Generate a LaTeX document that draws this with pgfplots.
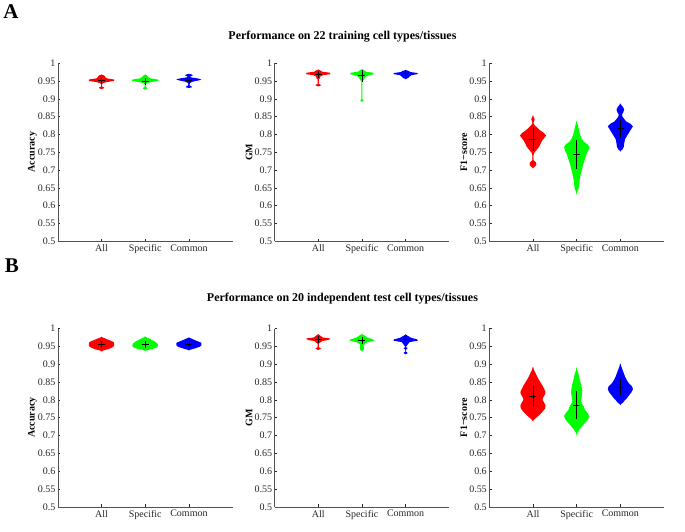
\documentclass[border=0pt]{standalone}
\usepackage{fontspec}
\setmainfont{Liberation Serif}
\usepackage{pgfplots}
\pgfplotsset{compat=1.18}
\usepackage{pgfplotstable}

% ---------- violin profiles (y, half-width) ----------
\pgfplotstableread{
y w
0.927 0
0.929 0.06
0.932 0.07
0.934 0.02
0.940 0.015
0.944 0.05
0.947 0.14
0.950 0.30
0.954 0.30
0.957 0.14
0.960 0.10
0.963 0.09
0.966 0.06
0.968 0
}\accAall
\pgfplotstableread{
y w
0.926 0
0.928 0.06
0.931 0.06
0.933 0.02
0.940 0.02
0.944 0.06
0.947 0.15
0.950 0.32
0.954 0.30
0.957 0.14
0.961 0.08
0.965 0.06
0.968 0
}\accAspec
\pgfplotstableread{
y w
0.930 0
0.932 0.08
0.935 0.07
0.938 0.02
0.944 0.03
0.948 0.10
0.951 0.22
0.954 0.30
0.957 0.22
0.960 0.06
0.963 0.04
0.965 0.10
0.968 0.08
0.970 0
}\accAcom
\pgfplotstableread{
y w
0.935 0
0.937 0.07
0.940 0.06
0.942 0.01
0.955 0.02
0.958 0.06
0.962 0.05
0.966 0.12
0.969 0.29
0.973 0.28
0.976 0.10
0.979 0.07
0.982 0
}\gmAall
\pgfplotstableread{
y w
0.892 0
0.894 0.05
0.897 0.04
0.899 0.008
0.948 0.008
0.952 0.05
0.957 0.07
0.962 0.10
0.966 0.18
0.969 0.28
0.973 0.27
0.976 0.10
0.980 0.06
0.983 0
}\gmAspec
\pgfplotstableread{
y w
0.955 0
0.958 0.07
0.962 0.10
0.966 0.14
0.969 0.28
0.972 0.29
0.975 0.12
0.978 0.08
0.981 0
}\gmAcom
\pgfplotstableread{
y w
0.705 0
0.710 0.06
0.716 0.09
0.722 0.08
0.728 0.02
0.740 0.015
0.750 0.05
0.757 0.10
0.765 0.15
0.775 0.19
0.782 0.22
0.790 0.27
0.797 0.31
0.804 0.26
0.812 0.17
0.820 0.10
0.826 0.05
0.832 0.02
0.838 0.04
0.843 0.05
0.848 0.03
0.853 0
}\fAall
\pgfplotstableread{
y w
0.632 0
0.640 0.03
0.650 0.06
0.660 0.07
0.672 0.08
0.685 0.10
0.700 0.13
0.715 0.16
0.730 0.20
0.745 0.24
0.755 0.28
0.765 0.30
0.772 0.26
0.780 0.17
0.790 0.12
0.800 0.09
0.810 0.07
0.820 0.05
0.830 0.03
0.838 0
}\fAspec
\pgfplotstableread{
y w
0.752 0
0.758 0.06
0.765 0.09
0.775 0.10
0.787 0.12
0.797 0.17
0.805 0.21
0.815 0.26
0.823 0.30
0.830 0.24
0.836 0.15
0.843 0.10
0.850 0.06
0.856 0.05
0.862 0.08
0.870 0.10
0.877 0.07
0.883 0.03
0.887 0
}\fAcom
\pgfplotstableread{
y w
0.936 0
0.939 0.06
0.942 0.16
0.945 0.22
0.948 0.27
0.952 0.30
0.958 0.30
0.962 0.29
0.966 0.22
0.970 0.14
0.974 0.06
0.977 0
}\accBall
\pgfplotstableread{
y w
0.937 0
0.940 0.07
0.943 0.18
0.947 0.28
0.952 0.31
0.958 0.29
0.963 0.24
0.967 0.18
0.971 0.12
0.975 0.05
0.978 0
}\accBspec
\pgfplotstableread{
y w
0.939 0
0.942 0.08
0.945 0.17
0.949 0.26
0.953 0.30
0.960 0.30
0.964 0.22
0.968 0.14
0.972 0.07
0.975 0
}\accBcom
\pgfplotstableread{
y w
0.940 0
0.942 0.06
0.945 0.07
0.948 0.02
0.956 0.015
0.960 0.05
0.965 0.10
0.968 0.25
0.972 0.29
0.975 0.12
0.978 0.08
0.982 0.04
0.984 0
}\gmBall
\pgfplotstableread{
y w
0.936 0
0.940 0.05
0.948 0.06
0.953 0.05
0.958 0.08
0.962 0.14
0.966 0.30
0.970 0.26
0.974 0.15
0.978 0.10
0.982 0.05
0.985 0
}\gmBspec
\pgfplotstableread{
y w
0.928 0
0.930 0.05
0.933 0.05
0.935 0.01
0.941 0.01
0.943 0.05
0.946 0.05
0.948 0.01
0.952 0.04
0.957 0.07
0.962 0.10
0.966 0.29
0.970 0.27
0.974 0.14
0.979 0.07
0.984 0
}\gmBcom
\pgfplotstableread{
y w
0.740 0
0.746 0.05
0.752 0.11
0.760 0.18
0.768 0.24
0.776 0.29
0.784 0.30
0.792 0.27
0.800 0.23
0.808 0.25
0.816 0.29
0.822 0.30
0.830 0.27
0.840 0.23
0.850 0.18
0.860 0.13
0.870 0.09
0.880 0.05
0.888 0.02
0.892 0
}\fBall
\pgfplotstableread{
y w
0.700 0
0.708 0.03
0.716 0.07
0.725 0.13
0.735 0.20
0.745 0.27
0.755 0.30
0.763 0.26
0.772 0.20
0.780 0.18
0.790 0.13
0.800 0.11
0.812 0.13
0.822 0.14
0.832 0.13
0.845 0.11
0.858 0.08
0.870 0.06
0.882 0.03
0.892 0
}\fBspec
\pgfplotstableread{
y w
0.786 0
0.792 0.07
0.798 0.11
0.806 0.17
0.814 0.22
0.822 0.27
0.830 0.30
0.838 0.28
0.846 0.21
0.855 0.16
0.865 0.12
0.875 0.09
0.885 0.06
0.895 0.03
0.902 0
}\fBcom

\definecolor{vred}{rgb}{1,0,0}
\definecolor{vgreen}{rgb}{0,1,0}
\definecolor{vblue}{rgb}{0,0,1}
\definecolor{axgray}{rgb}{0.15,0.15,0.15}

\newcommand{\violin}[3]{%
  \addplot[fill=#2, draw=none, forget plot] table[x expr=#1-0.012+\thisrow{w}, y=y] {#3};
  \addplot[fill=#2, draw=none, forget plot] table[x expr=#1+0.012-\thisrow{w}, y=y] {#3};
}
\newcommand{\vmean}[3]{%
  \addplot[black, mark=+, mark size=3.5pt, mark options={line width=0.6pt},
    error bars/.cd, y dir=both, y explicit, error mark=none,
    error bar style={black, line width=0.6pt}] coordinates {(#1,#2) +- (0,#3)};
}

\pgfplotsset{
  vio/.style={
    scale only axis, width=175pt, height=178.5pt,
    xmin=0, xmax=4, ymin=0.5, ymax=1,
    axis lines*=left,
    xtick={1,2,3}, xticklabels={All,Specific,Common},
    ytick={0.5,0.55,0.6,0.65,0.7,0.75,0.8,0.85,0.9,0.95,1},
    yticklabels={0.5,0.55,0.6,0.65,0.7,0.75,0.8,0.85,0.9,0.95,1},
    tick align=inside, major tick length=2.5pt,
    tick style={axgray, line width=0.5pt},
    tick label style={font=\fontsize{10}{11}\selectfont, text=axgray},
    yticklabel style={xshift=1pt},
    axis line style={axgray!80, line width=0.5pt},
    ylabel style={font=\bfseries\fontsize{10}{11}\selectfont, at={(axis description cs:-0.145,0.5)}, anchor=center},
    clip=false,
  }
}

\begin{document}
\begin{tikzpicture}
\path (0pt,0pt) rectangle (685pt,532pt);
\node[font=\bfseries\fontsize{21}{23}\selectfont] at (10pt,520pt) {A};
\node[font=\bfseries\fontsize{12}{14}\selectfont] at (342pt,495pt) {Performance on 22 training cell types/tissues};
\node[font=\bfseries\fontsize{21}{23}\selectfont] at (11pt,266pt) {B};
\node[font=\bfseries\fontsize{12}{14}\selectfont] at (342pt,233pt) {Performance on 20 independent test cell types/tissues};

% ---- A ----
\begin{axis}[vio, at={(57pt,290.3pt)}, anchor=south west, ylabel={Accuracy}]
\violin{1}{vred}{\accAall}
\violin{2}{vgreen}{\accAspec}
\violin{3}{vblue}{\accAcom}
\vmean{1}{0.951}{0.006}
\vmean{2}{0.949}{0.007}
\vmean{3}{0.952}{0.005}
\end{axis}
\begin{axis}[vio, at={(274pt,290.3pt)}, anchor=south west, ylabel={GM}]
\violin{1}{vred}{\gmAall}
\violin{2}{vgreen}{\gmAspec}
\violin{3}{vblue}{\gmAcom}
\vmean{1}{0.969}{0.009}
\vmean{2}{0.965}{0.017}
\vmean{3}{0.971}{0.004}
\end{axis}
\begin{axis}[vio, at={(489pt,290.3pt)}, anchor=south west, ylabel={F1−score}]
\violin{1}{vred}{\fAall}
\violin{2}{vgreen}{\fAspec}
\violin{3}{vblue}{\fAcom}
\vmean{1}{0.787}{0.033}
\vmean{2}{0.743}{0.040}
\vmean{3}{0.816}{0.025}
\end{axis}

% ---- B ----
\begin{axis}[vio, at={(57pt,24.5pt)}, anchor=south west, ylabel={Accuracy}]
\violin{1}{vred}{\accBall}
\violin{2}{vgreen}{\accBspec}
\violin{3}{vblue}{\accBcom}
\vmean{1}{0.956}{0.007}
\vmean{2}{0.956}{0.008}
\vmean{3}{0.957}{0.005}
\end{axis}
\begin{axis}[vio, at={(274pt,24.5pt)}, anchor=south west, ylabel={GM}]
\violin{1}{vred}{\gmBall}
\violin{2}{vgreen}{\gmBspec}
\violin{3}{vblue}{\gmBcom}
\vmean{1}{0.970}{0.009}
\vmean{2}{0.967}{0.010}
\vmean{3}{0.970}{0.007}
\end{axis}
\begin{axis}[vio, at={(489pt,24.5pt)}, anchor=south west, ylabel={F1−score}]
\violin{1}{vred}{\fBall}
\violin{2}{vgreen}{\fBspec}
\violin{3}{vblue}{\fBcom}
\vmean{1}{0.811}{0.029}
\vmean{2}{0.785}{0.040}
\vmean{3}{0.836}{0.022}
\end{axis}
\end{tikzpicture}
\end{document}
